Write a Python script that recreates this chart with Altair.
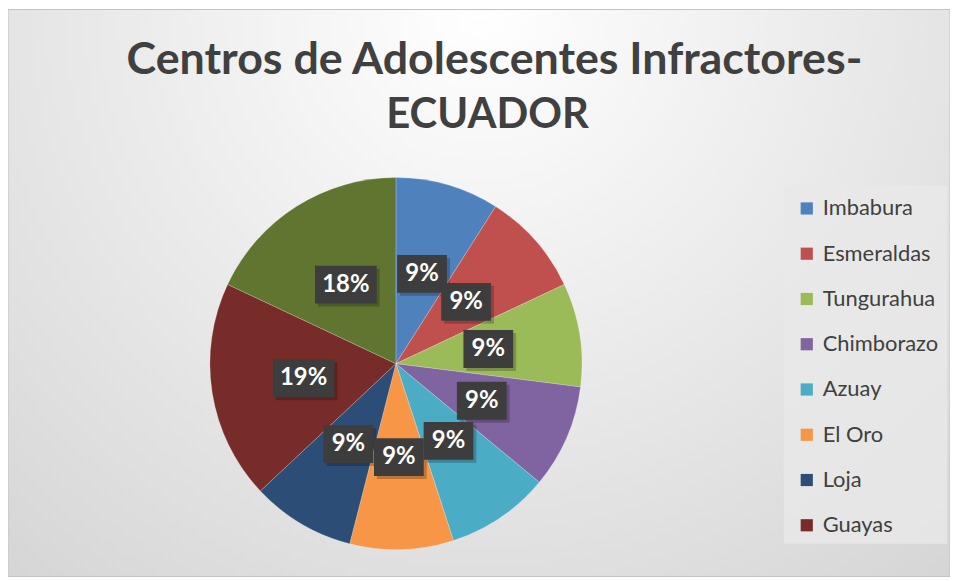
import altair as alt
import pandas as pd

# ---- data ----
provinces = ["Imbabura", "Esmeraldas", "Tungurahua", "Chimborazo", "Azuay",
             "El Oro", "Loja", "Guayas", "Pichincha"]
shares = [9, 9, 9, 9, 9, 9, 9, 19, 18]
labels = ["9%", "9%", "9%", "9%", "9%", "9%", "9%", "19%", "18%"]
colors = ["#4F81BD", "#C0504D", "#9BBB59", "#8064A2", "#4BACC6",
          "#F79646", "#2C4D75", "#772C2A", "#5F7530"]
legend_names = provinces[:8]
title_lines = ["Centros de Adolescentes Infractores-", "ECUADOR"]

# ---- layout constants ----
W, H = 947, 570
CX, CY = 390, 356
R = 187
RL = 94
FONT = "Lato"

df = pd.DataFrame({"provincia": provinces, "valor": shares,
                   "etiqueta": labels, "orden": list(range(len(provinces)))})
one = pd.DataFrame({"k": [0]})

bg = alt.Chart(one).mark_rect(
    fill=alt.Gradient(
        gradient="radial",
        stops=[alt.GradientStop(color="#ffffff", offset=0),
               alt.GradientStop(color="#e6e6e6", offset=0.55),
               alt.GradientStop(color="#d2d2d2", offset=1)],
        x1=0.5, y1=0.2, r1=0, x2=0.5, y2=0.2, r2=0.85),
    stroke="#c4c4c4", strokeWidth=1,
).encode(x=alt.value(0), x2=alt.value(W), y=alt.value(0), y2=alt.value(H))

legbox = alt.Chart(one).mark_rect(fill="#e9e9e9", opacity=0.8).encode(
    x=alt.value(780), x2=alt.value(944), y=alt.value(177), y2=alt.value(537))

pie = alt.Chart(df).mark_arc(outerRadius=R, stroke="#ffffff", strokeWidth=0.6,
                             strokeOpacity=0.35).encode(
    theta=alt.Theta("valor:Q", stack=True),
    order=alt.Order("orden:Q"),
    color=alt.Color(
        "provincia:N",
        scale=alt.Scale(domain=provinces, range=colors),
        sort=provinces,
        legend=alt.Legend(
            title=None, values=legend_names, orient="none",
            legendX=780, legendY=177, padding=12,
            symbolType="square", symbolSize=150, symbolStrokeWidth=0,
            labelFont=FONT, labelFontSize=22, labelColor="#404040",
            labelOffset=5, rowPadding=23.5,
        ),
    ),
    x=alt.value(CX), y=alt.value(CY),
)

lab_base = alt.Chart(df).transform_window(
    cum="sum(valor)", sort=[alt.SortField("orden")], frame=[None, 0]
).transform_joinaggregate(total="sum(valor)").transform_calculate(
    ang="(datum.cum - datum.valor/2) / datum.total * 2 * PI",
    lx=f"{CX} + {RL} * sin(datum.ang)",
    ly=f"{CY} - {RL} * cos(datum.ang)",
    hw="length(datum.etiqueta) > 2 ? 31 : 25",
    bx1="datum.lx - datum.hw",
    bx2="datum.lx + datum.hw",
    by1="datum.ly - 19",
    by2="datum.ly + 19",
)

shadow = lab_base.transform_calculate(
    sx1="datum.bx1 + 3", sx2="datum.bx2 + 3", sy1="datum.by1 + 3", sy2="datum.by2 + 3"
).mark_rect(fill="#000000", opacity=0.22).encode(
    x=alt.X("sx1:Q", scale=None), x2="sx2:Q",
    y=alt.Y("sy1:Q", scale=None), y2="sy2:Q")

boxes = lab_base.mark_rect(fill="#3d3d3d").encode(
    x=alt.X("bx1:Q", scale=None), x2="bx2:Q",
    y=alt.Y("by1:Q", scale=None), y2="by2:Q")

texts = lab_base.mark_text(font=FONT, fontSize=24, fontWeight="bold",
                           color="#ffffff", baseline="middle", align="center").encode(
    x=alt.X("lx:Q", scale=None), y=alt.Y("ly:Q", scale=None), text="etiqueta:N")

t1 = alt.Chart(one).mark_text(text=title_lines[0], font=FONT, fontSize=45,
                              fontWeight="bold", color="#404040",
                              align="center", baseline="alphabetic").encode(
    x=alt.value(489), y=alt.value(65))
t2 = alt.Chart(one).mark_text(text=title_lines[1], font=FONT, fontSize=42,
                              fontWeight="bold", color="#404040",
                              align="center", baseline="alphabetic").encode(
    x=alt.value(482), y=alt.value(119))

chart = alt.layer(bg, legbox, pie, shadow, boxes, texts, t1, t2).properties(
    width=W, height=H, padding=0,
    autosize=alt.AutoSizeParams(type="none"),
).configure_view(stroke=None)

chart.save("out.html", embed_options={"renderer": "svg", "actions": False})
